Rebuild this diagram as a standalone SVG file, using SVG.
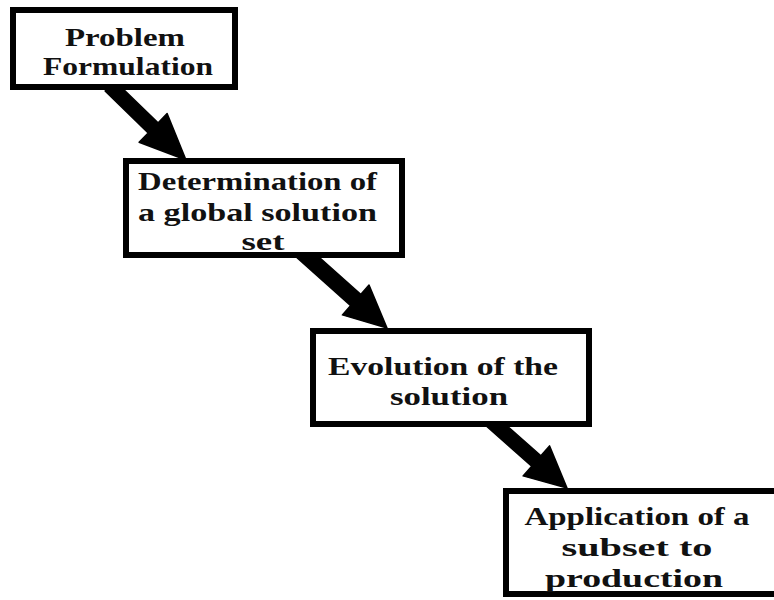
<svg xmlns="http://www.w3.org/2000/svg" width="774" height="600" viewBox="0 0 774 600">
  <style>
    .box { fill: #ffffff; stroke: #000000; stroke-width: 6; }
    .arrow { fill: #000000; stroke: #000000; stroke-width: 1.5; stroke-linejoin: round; }
    .label { font-family: "Liberation Serif", "Times New Roman", serif; font-weight: bold; font-size: 26px; fill: #111111; text-anchor: middle; }
  </style>
  <rect width="774" height="600" fill="#ffffff"/>

  <!-- block arrows between the stages -->
  <g id="connectors">
    <polygon class="arrow" points="114.9,81 158,122.9 167.1,113.6 186,160 139.1,142.2 148.2,132.9 105.1,91"/>
    <polygon class="arrow" points="307,246.4 360.7,294.4 369,285.1 387,328 342.4,314.9 350.7,305.6 297,257.6"/>
    <polygon class="arrow" points="494.6,414.8 540.9,455.7 549.5,445.9 567,488 523.1,475.9 531.7,466.2 485.4,425.2"/>
  </g>

  <g id="problem-formulation">
    <rect class="box" x="13" y="10" width="222" height="77"/>
    <text class="label" x="125" y="46" textLength="120" lengthAdjust="spacingAndGlyphs">Problem</text>
    <text class="label" x="128" y="75" textLength="170" lengthAdjust="spacingAndGlyphs">Formulation</text>
  </g>

  <g id="global-solution-set">
    <rect class="box" x="126" y="161" width="276" height="94"/>
    <text class="label" x="257.5" y="190" textLength="239" lengthAdjust="spacingAndGlyphs">Determination of</text>
    <text class="label" x="257.5" y="221" textLength="239" lengthAdjust="spacingAndGlyphs">a global solution</text>
    <text class="label" x="263" y="250" textLength="43" lengthAdjust="spacingAndGlyphs">set</text>
  </g>

  <g id="solution-evolution">
    <rect class="box" x="313" y="331" width="276" height="93"/>
    <text class="label" x="443" y="375" textLength="230" lengthAdjust="spacingAndGlyphs">Evolution of the</text>
    <text class="label" x="449" y="405" textLength="118" lengthAdjust="spacingAndGlyphs">solution</text>
  </g>

  <g id="subset-production">
    <rect class="box" x="506" y="491" width="290" height="103"/>
    <text class="label" x="637" y="525" textLength="225" lengthAdjust="spacingAndGlyphs">Application of a</text>
    <text class="label" x="637" y="556" textLength="151" lengthAdjust="spacingAndGlyphs">subset to</text>
    <text class="label" x="634" y="587" textLength="178" lengthAdjust="spacingAndGlyphs">production</text>
  </g>
</svg>
